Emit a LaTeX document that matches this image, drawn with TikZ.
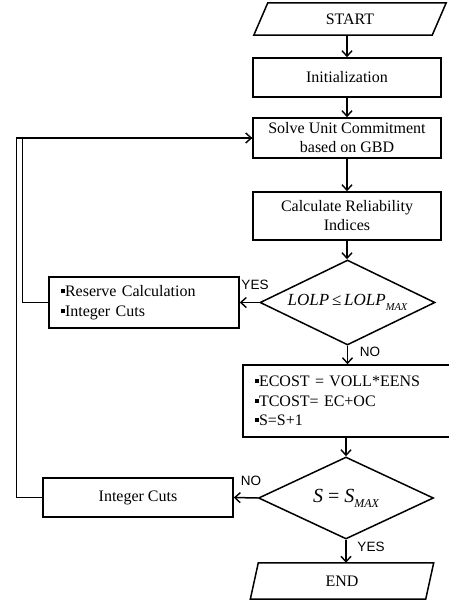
\documentclass[tikz,border=0pt]{standalone}
\usepackage{fontspec}
\setmainfont{Liberation Serif}
\newfontfamily\lsans{Liberation Sans}
\usetikzlibrary{arrows.meta,shapes.geometric}
\newcommand{\bul}{\rule[0.22em]{0.25em}{0.25em}}
\begin{document}
\begin{tikzpicture}[x=1pt,y=-1pt,
  line/.style={line width=1.5pt,line join=miter},
  arrow/.style={line, -{Straight Barb[length=5.5pt,width=10pt,line width=1.4pt]}},
  box/.style={line, draw, minimum width=188pt, inner sep=0pt, align=center, font=\fontsize{16}{19}\selectfont},
  lbox/.style={line, draw, inner xsep=12pt, inner ysep=0pt, align=left, font=\fontsize{16}{19.5}\selectfont},
  io/.style={inner sep=0pt, font=\fontsize{16}{19}\selectfont},
  dec/.style={line, draw, diamond, aspect=2.06, inner sep=0pt},
  lab/.style={font=\lsans\fontsize{13.5}{14}\selectfont, inner sep=0pt}]
\useasboundingbox (0,0) rectangle (449,605);
% START
\node[io, minimum width=178pt, minimum height=32pt] (start) at (350,19) {START};
\draw[line] ([xshift=-7pt]start.south west) -- ([xshift=7pt]start.north west) -- ([xshift=7pt]start.north east) -- ([xshift=-7pt]start.south east) -- cycle;
\node[box, minimum height=39pt] (init) at (347,77.5) {Initialization};
\node[box, minimum height=40pt] (solve) at (347,138) {Solve Unit Commitment\\based on GBD};
\node[box, minimum height=48pt] (calc) at (347,216) {Calculate Reliability\\Indices};
\node[dec, minimum width=175pt, minimum height=85pt] (d1) at (347.5,302.5)
  {\fontsize{17}{17}\selectfont\itshape LOLP\,\upshape≤\,\itshape LOLP\raisebox{-5pt}{\fontsize{10.5}{10.5}\selectfont MAX}};
\node[lbox, minimum width=190pt, minimum height=51pt, text width=166pt] (res) at (144,302.5)
  {\bul Reserve Calculation\\\bul Integer Cuts};
\node[lbox, minimum width=209pt, minimum height=72pt, text width=185pt] (cost) at (347.5,401)
  {\bul ECOST = VOLL*EENS\\\bul TCOST= EC+OC\\\bul S=S+1};
\node[dec, minimum width=175pt, minimum height=82pt] (d2) at (346,498)
  {\fontsize{20}{20}\selectfont\itshape S\upshape\ =\ \itshape S\raisebox{-5pt}{\fontsize{12}{12}\selectfont MAX}};
\node[box, minimum width=190pt, minimum height=39pt] (ic) at (138,497.5) {Integer Cuts};
% END
\node[io, minimum width=175pt, minimum height=36pt] (end) at (342,581) {END};
\draw[line] ([xshift=-4pt]end.south west) -- ([xshift=4pt]end.north west) -- ([xshift=4pt]end.north east) -- ([xshift=-4pt]end.south east) -- cycle;
% connectors
\draw[arrow] (start.south -| init.north) -- (init.north);
\draw[arrow] (init) -- (solve);
\draw[arrow] (solve) -- (calc);
\draw[arrow] (calc.south) -- (calc.south |- d1.north);
\draw[arrow] (d1.west) -- (res.east);
\draw[arrow] (d1.south) -- (d1.south |- cost.north);
\draw[arrow] (cost.south -| d2.north) -- (d2.north);
\draw[arrow] (d2.west) -- (ic.east);
\draw[arrow] (d2.south) -- (d2.south |- end.north);
\draw[arrow] (ic.west) -- ++(-26,0) |- (solve.west);
\draw[line] (res.west) -- ++(-26,0) |- (solve.west);
% labels
\node[lab] (lyes1) at (255,285) {YES};
\node[lab] (lno1) at (370,352) {NO};
\node[lab] (lno2) at (251,481) {NO};
\node[lab] (lyes2) at (371,547) {YES};
\end{tikzpicture}
\end{document}
